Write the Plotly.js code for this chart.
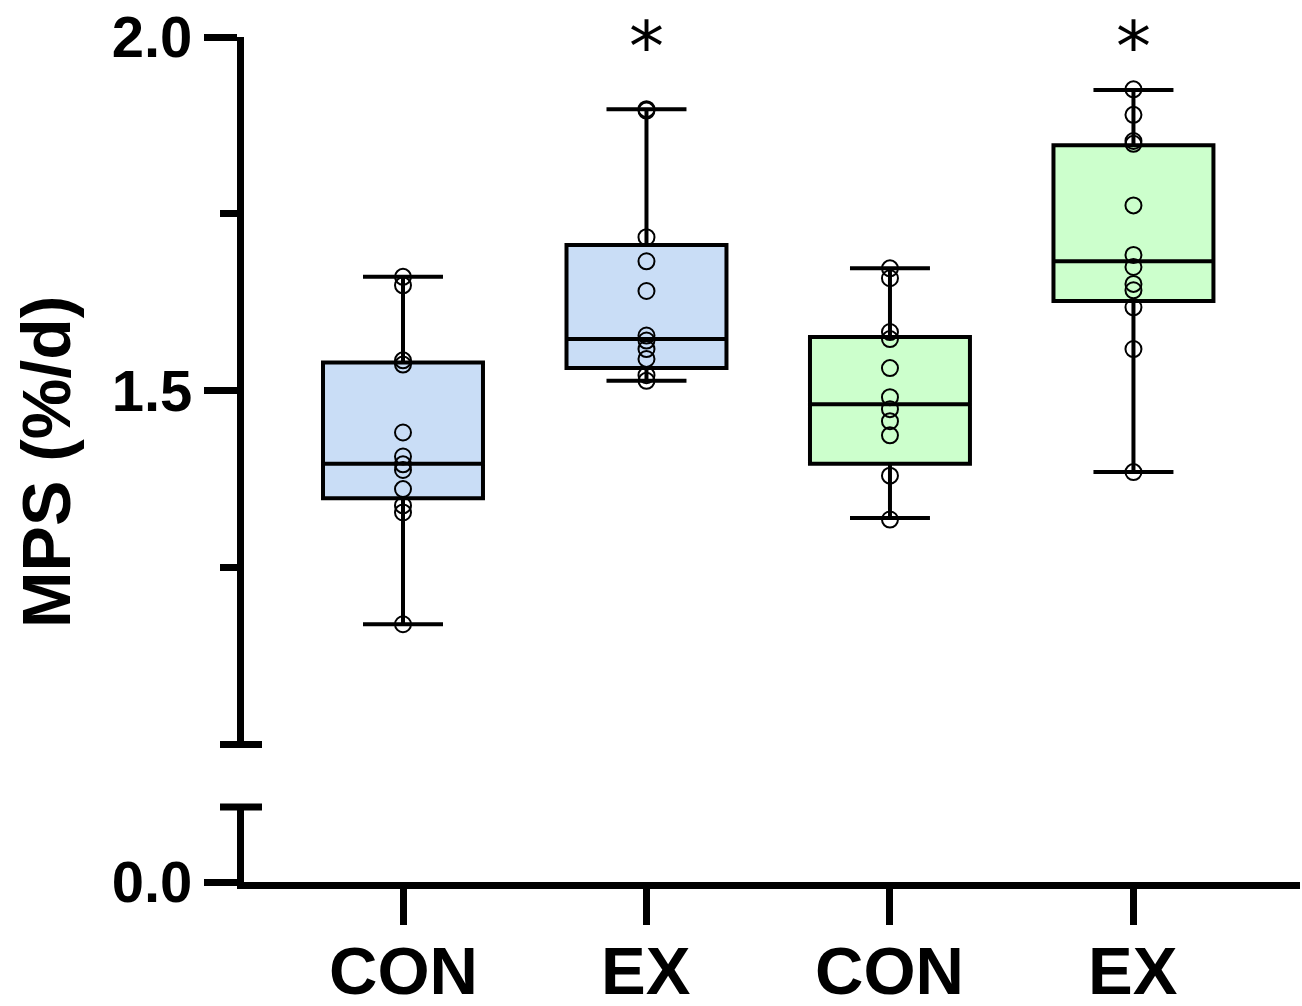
<!DOCTYPE html>
<html>
<head>
<meta charset="utf-8">
<script src="https://cdn.plot.ly/plotly-3.0.1.min.js"></script>
<style>html,body{margin:0;padding:0;background:#fff;}#chart{width:1302px;height:1006px;}</style>
</head>
<body>
<div id="chart"></div>
<script>
// ---- data ----
const groupLabels = ["CON", "EX", "CON", "EX"];
const groupPos = [0, 1, 2, 3];

const conBlue  = [1.661, 1.649, 1.543, 1.537, 1.441, 1.407, 1.396, 1.388, 1.361, 1.338, 1.328, 1.170];
const exBlue   = [1.898, 1.896, 1.717, 1.683, 1.641, 1.578, 1.571, 1.559, 1.545, 1.522, 1.514];
const conGreen = [1.673, 1.659, 1.583, 1.573, 1.532, 1.491, 1.474, 1.457, 1.437, 1.380, 1.318];
const exGreen  = [1.926, 1.890, 1.853, 1.849, 1.762, 1.692, 1.675, 1.651, 1.642, 1.618, 1.559, 1.385];

const q1Vals     = [1.348, 1.532, 1.397, 1.627];
const medianVals = [1.397, 1.573, 1.481, 1.683];
const q3Vals     = [1.540, 1.706, 1.576, 1.847];
const lowerVals  = [1.170, 1.514, 1.320, 1.385];
const upperVals  = [1.661, 1.898, 1.673, 1.925];

const sigGroups = [1, 3];
const sigMark = "*";

// ---- build traces ----
const allPoints = [conBlue, exBlue, conGreen, exGreen];
const blueFill = "#c9ddf6";
const greenFill = "#ccffcc";

function boxTrace(idx, fill) {
  return {
    type: "box",
    x: idx.map(i => groupPos[i]),
    q1: idx.map(i => q1Vals[i]),
    median: idx.map(i => medianVals[i]),
    q3: idx.map(i => q3Vals[i]),
    lowerfence: idx.map(i => lowerVals[i]),
    upperfence: idx.map(i => upperVals[i]),
    xaxis: "x", yaxis: "y2",
    width: 0.657,
    whiskerwidth: 0.5,
    boxpoints: false,
    fillcolor: fill,
    line: {color: "#000", width: 4},
    showlegend: false,
    hoverinfo: "skip"
  };
}

const px = [], py = [];
allPoints.forEach((arr, i) => arr.forEach(v => { px.push(groupPos[i]); py.push(v); }));

const data = [
  // empty trace so the lower (broken) axis segment exists
  {type: "scatter", mode: "markers", x: [], y: [], xaxis: "x", yaxis: "y", showlegend: false, hoverinfo: "skip"},
  boxTrace([0, 1], blueFill),
  boxTrace([2, 3], greenFill),
  {
    type: "scatter", mode: "markers",
    x: px, y: py, xaxis: "x", yaxis: "y2",
    marker: {symbol: "circle-open", size: 16, color: "#000", line: {width: 2, color: "#000"}},
    showlegend: false, hoverinfo: "skip", cliponaxis: false
  }
];

const fontFam = "Liberation Sans, Arial, sans-serif";
const L = 244, R = 2, T = 37, B = 124;
const plotW = 1302 - L - R;
const plotH = 1006 - T - B;
const lowDomTop = 0.0888, upDomBot = 0.1627;

function paperX(pxv) { return (pxv - L) / plotW; }
function paperY(pyv) { return (1006 - B - pyv) / plotH; }

const layout = {
  width: 1302, height: 1006,
  margin: {l: L, r: R, t: T, b: B, pad: 0},
  paper_bgcolor: "#fff", plot_bgcolor: "rgba(0,0,0,0)",
  showlegend: false,
  xaxis: {
    range: [-0.653, 3.684],
    anchor: "y",
    tickmode: "array", tickvals: groupPos, ticktext: groupLabels.map(() => ""),
    ticks: "outside", ticklen: 36, tickwidth: 7, tickcolor: "#000",
    showline: true, linecolor: "#000", linewidth: 7,
    showgrid: false, zeroline: false,
    fixedrange: true
  },
  yaxis: {
    domain: [0, lowDomTop],
    range: [0, 0.1],
    anchor: "x",
    tickmode: "array", tickvals: [0], ticktext: ["0.0"],
    ticks: "outside", ticklen: 33, tickwidth: 7, tickcolor: "#000",
    showline: true, linecolor: "#000", linewidth: 7,
    showgrid: false, zeroline: false,
    tickfont: {family: fontFam, size: 58, color: "#000", weight: "bold"},
    fixedrange: true
  },
  yaxis2: {
    domain: [upDomBot, 1],
    range: [1.0, 2.0],
    anchor: "x",
    tickmode: "array", tickvals: [1.5, 2.0], ticktext: ["1.5", "2.0"],
    ticks: "outside", ticklen: 33, tickwidth: 7, tickcolor: "#000",
    minor: {tickmode: "array", tickvals: [1.25, 1.75], ticks: "outside", ticklen: 17, tickwidth: 7, tickcolor: "#000", showgrid: false},
    showline: true, linecolor: "#000", linewidth: 7,
    showgrid: false, zeroline: false,
    tickfont: {family: fontFam, size: 58, color: "#000", weight: "bold"},
    fixedrange: true
  },
  shapes: [
    {type: "line", xref: "paper", yref: "paper", x0: paperX(220), x1: paperX(262), y0: upDomBot, y1: upDomBot, line: {color: "#000", width: 7}},
    {type: "line", xref: "paper", yref: "paper", x0: paperX(220), x1: paperX(262), y0: lowDomTop, y1: lowDomTop, line: {color: "#000", width: 7}}
  ],
  annotations: [
    {
      text: "<b>MPS (%/d)</b>", textangle: -90,
      xref: "paper", yref: "paper",
      x: paperX(46), y: 0.497, xanchor: "center", yanchor: "middle",
      showarrow: false,
      font: {family: fontFam, size: 68, color: "#000"}
    }
  ].concat(groupLabels.map((lab, i) => ({
    text: "<b>" + lab + "</b>", xref: "x", yref: "paper",
    x: groupPos[i], y: paperY(970), xanchor: "center", yanchor: "middle",
    showarrow: false,
    font: {family: fontFam, size: 67, color: "#000"}
  }))).concat(sigGroups.map(g => ({
    text: sigMark, xref: "x", yref: "y2",
    x: groupPos[g], y: 2.0, xanchor: "center", yanchor: "middle",
    yshift: -10,
    showarrow: false,
    font: {family: "DejaVu Sans", size: 70, color: "#000"}
  })))
};

Plotly.newPlot("chart", data, layout, {displayModeBar: false, staticPlot: true});
</script>
</body>
</html>
